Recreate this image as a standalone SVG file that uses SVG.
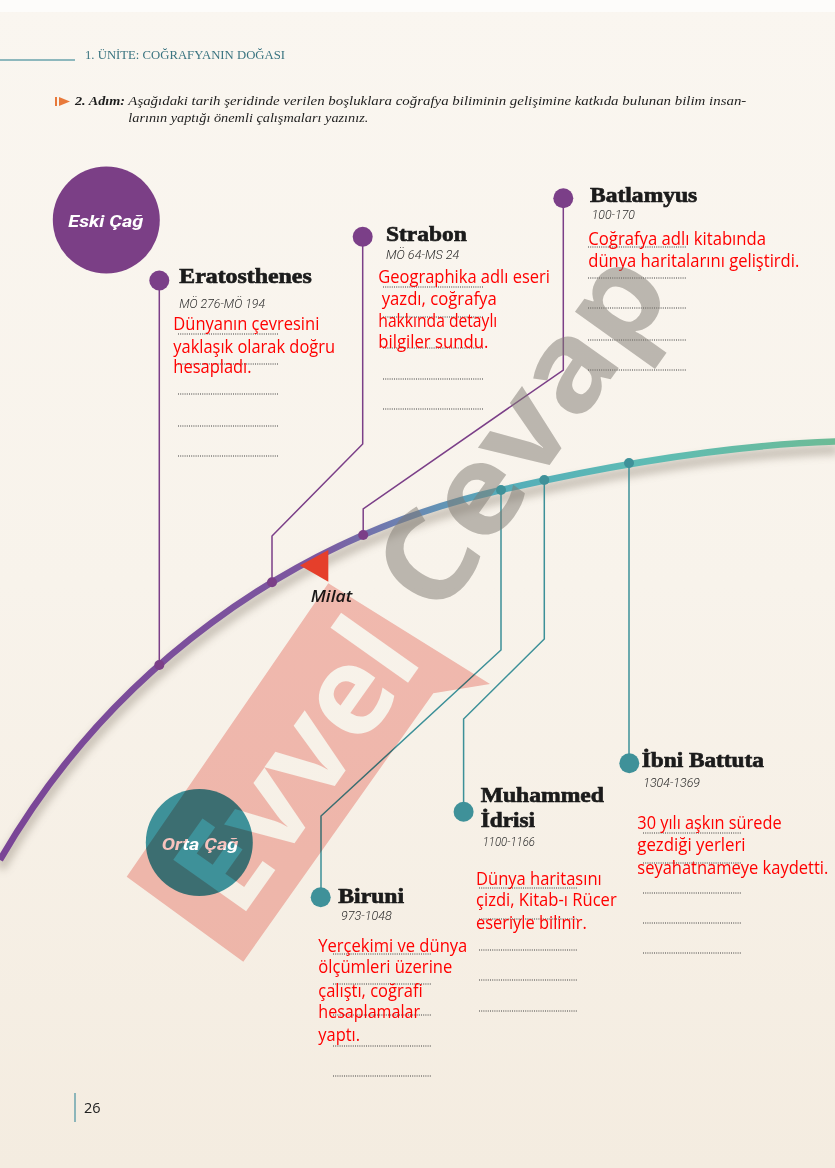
<svg xmlns="http://www.w3.org/2000/svg" width="835" height="1168" viewBox="0 0 835 1168">
<defs>
<linearGradient id="bg" x1="0" y1="0" x2="0" y2="1">
<stop offset="0" stop-color="#faf6f0"/>
<stop offset="0.5" stop-color="#f8f3eb"/>
<stop offset="1" stop-color="#f4ece0"/>
</linearGradient>
<linearGradient id="arcg" gradientUnits="userSpaceOnUse" x1="0" y1="0" x2="835" y2="0">
<stop offset="0" stop-color="#7a4596"/>
<stop offset="0.38" stop-color="#7c57a0"/>
<stop offset="0.48" stop-color="#6c82b2"/>
<stop offset="0.6" stop-color="#55adb9"/>
<stop offset="0.78" stop-color="#5ebcb4"/>
<stop offset="1" stop-color="#6dbb96"/>
</linearGradient>
<filter id="blur" x="-10%" y="-10%" width="120%" height="130%">
<feGaussianBlur stdDeviation="4"/>
</filter>
<mask id="evmask" maskUnits="userSpaceOnUse" x="0" y="0" width="835" height="1168">
<rect x="0" y="0" width="835" height="1168" fill="#fff"/>
<text class="wm" transform="translate(332,790) rotate(-54.7)" text-anchor="middle" fill="#000" textLength="319" lengthAdjust="spacingAndGlyphs">Evvel</text>
</mask>
<style>
.name{font-family:"Liberation Serif",serif;font-weight:bold;font-size:22px;fill:#1b1b1b;stroke:#1b1b1b;stroke-width:0.7px}
.date{font-family:Roboto,"Liberation Sans",sans-serif;font-style:italic;font-weight:300;font-size:12.5px;fill:#2b2b2b}
.ans{font-family:"Open Sans","Liberation Sans",sans-serif;font-size:17.5px;fill:#ff0000}
.dots{stroke:#3e3e3e;stroke-width:1;stroke-dasharray:1 1.2;fill:none}
.pl{stroke:#7b3f88;stroke-width:1.5;fill:none}
.tl{stroke:#3c9098;stroke-width:1.5;fill:none}
.pd{fill:#7b3f88}
.td{fill:#3f9199}
.era{font-family:Roboto,"Liberation Sans",sans-serif;font-style:italic;font-weight:bold;font-size:17px;fill:#ffffff}
.wm{font-family:"Open Sans","Liberation Sans",sans-serif;font-weight:bold;font-size:125px}
</style>
</defs>

<rect x="0" y="0" width="835" height="1168" fill="url(#bg)"/>
<rect x="0" y="0" width="835" height="12" fill="#fdfcfa"/>

<g id="header">
<line x1="0" y1="60" x2="75" y2="60" stroke="#6aa3ad" stroke-width="1.5"/>
<text x="85" y="58.5" font-family="Liberation Serif, serif" font-size="12.5" fill="#3a7480" textLength="200" lengthAdjust="spacingAndGlyphs">1. ÜNİTE: COĞRAFYANIN DOĞASI</text>
</g>

<g id="instruction">
<rect x="55" y="97" width="2" height="9" fill="#e8793a"/>
<polygon points="59,97 70,101.5 59,106" fill="#e8793a"/>
<text x="75" y="104.5" font-family="Liberation Serif, serif" font-weight="bold" font-style="italic" font-size="13.5" fill="#1e1e1e" textLength="50" lengthAdjust="spacingAndGlyphs">2. Adım:</text>
<text x="128.3" y="104.5" font-family="Liberation Serif, serif" font-style="italic" font-size="13" fill="#1e1e1e" textLength="618" lengthAdjust="spacingAndGlyphs">Aşağıdaki tarih şeridinde verilen boşluklara coğrafya biliminin gelişimine katkıda bulunan bilim insan-</text>
<text x="128.3" y="121.7" font-family="Liberation Serif, serif" font-style="italic" font-size="13" fill="#1e1e1e" textLength="240" lengthAdjust="spacingAndGlyphs">larının yaptığı önemli çalışmaları yazınız.</text>
</g>

<g id="timeline">
<path d="M0,860 A776.6,776.6 0 0 1 501,490 C611,465 725,445 838,441.5" fill="none" stroke="#7d7264" stroke-width="10" opacity="0.4" transform="translate(0,8)" filter="url(#blur)"/>
<path d="M0,860 A776.6,776.6 0 0 1 501,490 C611,465 725,445 838,441.5" fill="none" stroke="url(#arcg)" stroke-width="6.5"/>
</g>

<g id="connectors">
<path class="pl" d="M159.3,281 V665"/>
<path class="pl" d="M362.7,237 V444 L272,536 V582.3"/>
<path class="pl" d="M563.3,198 V370 L363.2,509 V535"/>
<path class="tl" d="M501,490 V650 L321,816 V897"/>
<path class="tl" d="M544.3,480 V639 L463.6,719 V811.7"/>
<path class="tl" d="M629,463 V763"/>
<circle class="pd" cx="159.3" cy="665" r="5"/>
<circle class="pd" cx="272" cy="582.3" r="5"/>
<circle class="pd" cx="363.2" cy="535" r="5"/>
<circle class="td" cx="501" cy="490" r="5"/>
<circle class="td" cx="544.3" cy="480" r="5"/>
<circle class="td" cx="629" cy="463" r="5"/>
</g>

<g id="milat">
<polygon points="300,565.5 328.3,550 328.3,581.7" fill="#e53f2b"/>
<text x="310.7" y="601.7" font-family="Open Sans, Liberation Sans, sans-serif" font-style="italic" font-weight="600" font-size="16.5" fill="#1a1a1a" textLength="41.6" lengthAdjust="spacingAndGlyphs">Milat</text>
</g>

<g id="eski-cag">
<circle cx="106.3" cy="220" r="53.5" fill="#7b3f86"/>
<text class="era" x="68.3" y="226.7" textLength="75" lengthAdjust="spacingAndGlyphs">Eski Çağ</text>
</g>

<g id="orta-cag">
<circle cx="199.3" cy="842.5" r="53.5" fill="#3e9199"/>
<text class="era" x="161.7" y="850" textLength="76.6" lengthAdjust="spacingAndGlyphs">Orta Çağ</text>
</g>

<g id="eratosthenes">
<circle class="pd" cx="159.3" cy="280.5" r="10"/>
<text class="name" x="179.3" y="283.3" textLength="132.4" lengthAdjust="spacingAndGlyphs">Eratosthenes</text>
<text class="date" x="179.3" y="307.7" textLength="85.7" lengthAdjust="spacingAndGlyphs">MÖ 276-MÖ 194</text>
<path class="dots" d="M178,334 H278 M178,364 H278 M178,394 H278 M178,426 H278 M178,456 H278"/>
<text class="ans" x="173.3" y="330" textLength="146" lengthAdjust="spacingAndGlyphs">Dünyanın çevresini</text>
<text class="ans" x="173.3" y="352.7" textLength="161.7" lengthAdjust="spacingAndGlyphs">yaklaşık olarak doğru</text>
<text class="ans" x="173.3" y="373.3" textLength="78.3" lengthAdjust="spacingAndGlyphs">hesapladı.</text>
</g>

<g id="strabon">
<circle class="pd" cx="362.7" cy="236.7" r="10"/>
<text class="name" x="386" y="241" textLength="80.7" lengthAdjust="spacingAndGlyphs">Strabon</text>
<text class="date" x="386" y="259" textLength="73.3" lengthAdjust="spacingAndGlyphs">MÖ 64-MS 24</text>
<path class="dots" d="M383,287 H483 M383,317 H483 M383,348 H483 M383,379 H483 M383,409 H483"/>
<text class="ans" x="378.3" y="282.7" textLength="171.7" lengthAdjust="spacingAndGlyphs">Geographika adlı eseri</text>
<text class="ans" x="381.7" y="304.5" textLength="115" lengthAdjust="spacingAndGlyphs">yazdı, coğrafya</text>
<text class="ans" x="378.3" y="326.5" textLength="119" lengthAdjust="spacingAndGlyphs">hakkında detaylı</text>
<text class="ans" x="378.3" y="348.3" textLength="110" lengthAdjust="spacingAndGlyphs">bilgiler sundu.</text>
</g>

<g id="batlamyus">
<circle class="pd" cx="563.3" cy="198.3" r="10"/>
<text class="name" x="590" y="201.7" textLength="107.3" lengthAdjust="spacingAndGlyphs">Batlamyus</text>
<text class="date" x="591.7" y="219.3" textLength="43.3" lengthAdjust="spacingAndGlyphs">100-170</text>
<path class="dots" d="M588,247 H687 M588,278 H687 M588,308 H687 M588,340 H687 M588,370 H687"/>
<text class="ans" x="588.3" y="245" textLength="177.7" lengthAdjust="spacingAndGlyphs">Coğrafya adlı kitabında</text>
<text class="ans" x="588.3" y="266.7" textLength="211" lengthAdjust="spacingAndGlyphs">dünya haritalarını geliştirdi.</text>
</g>

<g id="ibni-battuta">
<circle class="td" cx="629.3" cy="763.3" r="10"/>
<text class="name" x="641.7" y="766.7" textLength="122.3" lengthAdjust="spacingAndGlyphs">İbni Battuta</text>
<text class="date" x="643.3" y="786.7" textLength="56.7" lengthAdjust="spacingAndGlyphs">1304-1369</text>
<path class="dots" d="M643,833 H741 M643,863 H741 M643,893 H741 M643,923 H741 M643,953 H741"/>
<text class="ans" x="637.3" y="829.3" textLength="144.3" lengthAdjust="spacingAndGlyphs">30 yılı aşkın sürede</text>
<text class="ans" x="637.3" y="851" textLength="108.3" lengthAdjust="spacingAndGlyphs">gezdiği yerleri</text>
<text class="ans" x="637.3" y="874" textLength="191" lengthAdjust="spacingAndGlyphs">seyahatnameye kaydetti.</text>
</g>

<g id="muhammed-idrisi">
<circle class="td" cx="463.6" cy="811.7" r="10"/>
<text class="name" x="480.7" y="801.7" textLength="123.3" lengthAdjust="spacingAndGlyphs">Muhammed</text>
<text class="name" x="480.7" y="826.7" textLength="54.3" lengthAdjust="spacingAndGlyphs">İdrisi</text>
<text class="date" x="482.7" y="846" textLength="52.3" lengthAdjust="spacingAndGlyphs">1100-1166</text>
<path class="dots" d="M479,888 H577 M479,919 H577 M479,950 H577 M479,980 H577 M479,1011 H577"/>
<text class="ans" x="476" y="885" textLength="125.7" lengthAdjust="spacingAndGlyphs">Dünya haritasını</text>
<text class="ans" x="476" y="906" textLength="140.7" lengthAdjust="spacingAndGlyphs">çizdi, Kitab-ı Rücer</text>
<text class="ans" x="476" y="929.3" textLength="110.7" lengthAdjust="spacingAndGlyphs">eseriyle bilinir.</text>
</g>

<g id="biruni">
<circle class="td" cx="320.7" cy="897.3" r="10"/>
<text class="name" x="338.3" y="902.7" textLength="65.7" lengthAdjust="spacingAndGlyphs">Biruni</text>
<text class="date" x="341" y="920" textLength="50.7" lengthAdjust="spacingAndGlyphs">973-1048</text>
<path class="dots" d="M333,954 H432 M333,984 H432 M333,1015 H432 M333,1046 H432 M333,1076 H432"/>
<text class="ans" x="318.3" y="951.7" textLength="149" lengthAdjust="spacingAndGlyphs">Yerçekimi ve dünya</text>
<text class="ans" x="318.3" y="973.3" textLength="134" lengthAdjust="spacingAndGlyphs">ölçümleri üzerine</text>
<text class="ans" x="318.3" y="996.7" textLength="104.3" lengthAdjust="spacingAndGlyphs">çalıştı, coğrafi</text>
<text class="ans" x="318.3" y="1018.3" textLength="101.7" lengthAdjust="spacingAndGlyphs">hesaplamalar</text>
<text class="ans" x="318.3" y="1041" textLength="41.7" lengthAdjust="spacingAndGlyphs">yaptı.</text>
</g>

<g id="page-number">
<line x1="75" y1="1093" x2="75" y2="1122" stroke="#6aa3ad" stroke-width="1.5"/>
<text x="84" y="1113.3" font-family="Open Sans, Liberation Sans, sans-serif" font-size="14.5" fill="#222">26</text>
</g>

<g id="watermark">
<polygon points="126.7,876.7 328.3,583.3 490,684 433.3,693.3 243.3,961.7" fill="#e64a3c" opacity="0.34" style="mix-blend-mode:multiply" mask="url(#evmask)"/>
<text class="wm" transform="translate(556,456) rotate(-54.5)" text-anchor="middle" fill="#7f7a72" opacity="0.5" font-size="135" font-weight="600" textLength="405" lengthAdjust="spacingAndGlyphs">Cevap</text>
</g>
</svg>
